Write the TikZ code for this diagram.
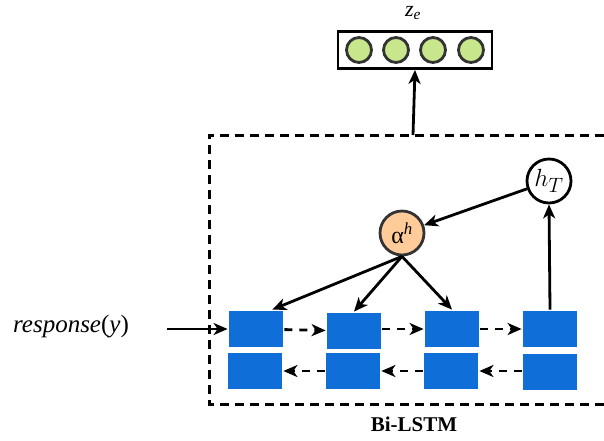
\documentclass[tikz,border=0pt]{standalone}
\usepackage{fontspec}
\setmainfont{Liberation Serif}
\usetikzlibrary{arrows.meta,positioning}

\definecolor{cellblue}{RGB}{16,110,216}
\definecolor{attorange}{RGB}{255,204,153}
\definecolor{embgreen}{RGB}{200,230,140}

\begin{document}
\begin{tikzpicture}[x=1pt,y=-1pt,>={Stealth[length=14pt,width=12pt,inset=4pt]},line width=2.8pt,
    cell/.style={rectangle,fill=cellblue,minimum width=54pt,minimum height=36pt,inner sep=0pt},
    unit/.style={circle,draw=black!80,fill=embgreen,minimum size=25pt,inner sep=0pt},
    dot/.style={circle,draw,minimum size=44pt,inner sep=0pt},
    flow/.style={->,dashed,dash pattern=on 8pt off 7pt}]
    \useasboundingbox (0,0) rectangle (604,440);
    % embedding vector
    \node[rectangle,draw,minimum width=154pt,minimum height=37pt] (zbox) at (415,50) {};
    \foreach \i/\xx in {1/359,2/396,3/433,4/471}
        \node[unit] (z\i) at (\xx,50) {};
    \node[font=\fontsize{22}{22}\selectfont] (zlab) at (413,13) {\textit{z}\textsubscript{\textit{e}}};
    % Bi-LSTM frame
    \draw[dashed,dash pattern=on 9pt off 6pt,line width=3pt] (604,135) -- (209,135) -- (209,404) -- (604,404);
    \node[font=\bfseries\fontsize{21}{21}\selectfont] (lstm) at (414,424) {Bi-LSTM};
    \coordinate (top) at (413,135);
    % forward and backward cells
    \node[cell] (f1) at (256,329) {};
    \node[cell] (f2) at (354,331) {};
    \node[cell] (f3) at (452,329) {};
    \node[cell] (f4) at (550,329) {};
    \node[cell] (b1) at (255,371) {};
    \node[cell] (b2) at (353,371) {};
    \node[cell] (b3) at (451,371) {};
    \node[cell] (b4) at (550,372) {};
    % attention and last state
    \node[dot,fill=attorange,draw=black!80] (att) at (402,233) {\fontsize{24}{24}\selectfont α\textsuperscript{\textit{h}}};
    \node[dot,fill=white] (hT) at (549,181) {\fontsize{28}{28}\selectfont $h_T$};
    % input
    \node[font=\fontsize{25}{25}\selectfont] (resp) at (71,327) {\textit{response}(\textit{y})};
    \coordinate (in) at (167,329);
    \path[->]
    (in) edge (f1.west)
    (top) edge (zbox.south)
    (f4.north) edge (hT.south)
    (hT) edge (att)
    (att.south) edge (f1.50)
    (att.south) edge (f2.north)
    (att.south) edge (f3.north);
    \path[flow]
    (f1) edge (f2)
    (f2.east |- f3.west) edge (f3)
    (f3) edge (f4)
    (b4.west |- b3.east) edge (b3)
    (b3) edge (b2)
    (b2) edge (b1);
\end{tikzpicture}
\end{document}
